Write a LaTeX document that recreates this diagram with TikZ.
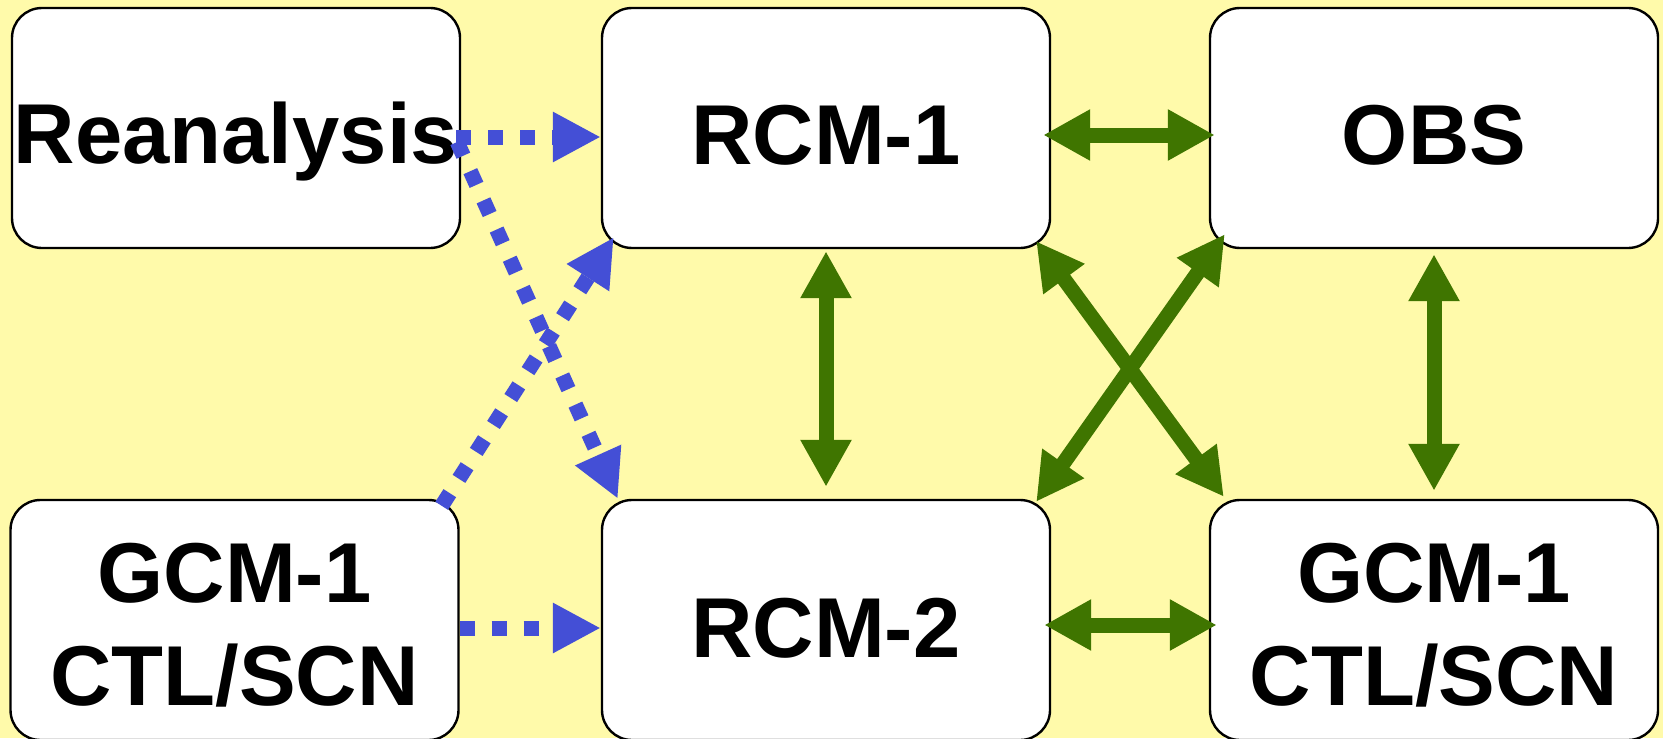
\documentclass[tikz,border=0pt]{standalone}
\usepackage{fontspec}
\setmainfont{Liberation Sans}
\usetikzlibrary{arrows.meta,calc}
\definecolor{bgyellow}{RGB}{255,250,170}
\definecolor{arrblue}{RGB}{68,79,214}
\definecolor{arrgreen}{RGB}{63,117,0}
\begin{document}
\begin{tikzpicture}[x=0.5pt,y=-0.5pt,
  boxnode/.style={draw=black,fill=white,line width=1.2pt,rounded corners=15pt,
    minimum width=224pt,minimum height=120pt,inner sep=0pt},
  lbl/.style={anchor=base,inner sep=0pt,font=\fontsize{42.5pt}{50pt}\selectfont\bfseries},
  barrow/.style={draw=arrblue,line width=7.5pt,dash pattern=on 7.5pt off 8.5pt,
    -{Triangle[length=24pt,width=23.5pt]}},
  garrow/.style={draw=arrgreen,line width=7.5pt,
    {Triangle[length=23.5pt,width=24pt]}-{Triangle[length=23.5pt,width=24pt]}}]
\fill[bgyellow] (0,0) rectangle (1663,738);
\useasboundingbox (0,0) rectangle (1663,738);
% boxes
\node[boxnode] (rea) at (236,128) {};
\node[boxnode] (rcm1) at (826,128) {};
\node[boxnode] (obs) at (1434,128) {};
\node[boxnode] (gcml) at (234.5,620) {};
\node[boxnode] (rcm2) at (826,620) {};
\node[boxnode] (gcmr) at (1434,620) {};
% labels
\node[lbl] (reaT) at (236,163) {Reanalysis};
\node[lbl] (rcm1T) at (826,164) {RCM-1};
\node[lbl] (obsT) at (1434,164) {OBS};
\node[lbl] (rcm2T) at (826,657) {RCM-2};
\node[lbl] (gcmlA) at (234.5,602) {GCM-1};
\node[lbl] (gcmlB) at (234.5,705) {CTL/SCN};
\node[lbl] (gcmrA) at (1434,602) {GCM-1};
\node[lbl] (gcmrB) at (1434,705) {CTL/SCN};
% blue dotted connectors
\draw[barrow] ($(rea.east)+(-5,9)$) -- ($(rcm1.west)+(0,9)$);
\draw[barrow] ($(rea.east)+(-4,14)$) -- ($(rcm2.north west)+(17,0)$);
\draw[barrow] ($(gcml.north east)+(-18,7)$) -- ($(rcm1.south west)+(13,-12)$);
\draw[barrow] ($(gcml.east)+(0,8)$) -- ($(rcm2.west)+(0,8)$);
% green connectors
\draw[garrow] ($(rcm1.east)+(-8,7)$) -- ($(obs.west)+(6,7)$);
\draw[garrow] ($(rcm2.east)+(-7,5)$) -- ($(gcmr.west)+(8,5)$);
\draw[garrow] ($(rcm1.south)+(0,2)$) -- ($(rcm2.north)+(0,-12)$);
\draw[garrow] ($(obs.south)+(0,5)$) -- ($(gcmr.north)+(0,-8)$);
\draw[garrow] ($(rcm1.south east)+(-15,-8)$) -- ($(gcmr.north west)+(15,-2)$);
\draw[garrow] ($(obs.south west)+(16,-15)$) -- ($(rcm2.north east)+(-15,3)$);
\end{tikzpicture}
\end{document}
